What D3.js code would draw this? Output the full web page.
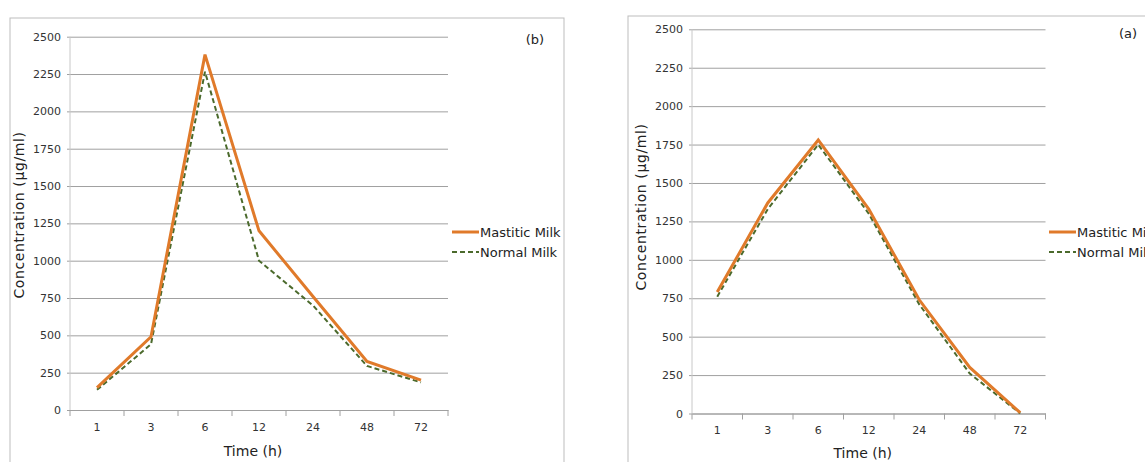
<!DOCTYPE html>
<html>
<head>
<meta charset="utf-8">
<script src="https://cdn.jsdelivr.net/npm/d3@7"></script>
<style>
  body { margin: 0; background: #fff; }
  svg { display: block; font-family: "DejaVu Sans", Verdana, sans-serif; }
</style>
</head>
<body>
<div id="chart"></div>
<script>
// time points (h) and tick values
const times = ["1", "3", "6", "12", "24", "48", "72"];
const yTicks = [0, 250, 500, 750, 1000, 1250, 1500, 1750, 2000, 2250, 2500];
const seriesNames = ["Mastitic Milk", "Normal Milk"];

// panel (b)
const mastiticB = [150, 490, 2380, 1200, 760, 325, 200];
const normalB   = [135, 440, 2265, 1000, 700, 295, 185];
// panel (a)
const mastiticA = [790, 1370, 1780, 1330, 740, 300, 5];
const normalA   = [760, 1330, 1750, 1300, 710, 260, 0];

const W = 1145, H = 462;
const orange = "#e07a2a", green = "#4b6a2c";

const svg = d3.select("#chart").append("svg")
  .attr("width", W).attr("height", H);

function drawPanel(cfg) {
  const { frame, left, right, top, bottom, mastitic, normal, tag, tagPos, legendX, yLabelX, yLabelY, xLabelY } = cfg;

  // frame of the panel
  svg.append("rect")
    .attr("x", frame[0]).attr("y", frame[1])
    .attr("width", frame[2]).attr("height", frame[3])
    .attr("fill", "none").attr("stroke", "#bdbdbd").attr("stroke-width", 1);

  const x = d3.scaleBand().domain(times).range([left, right]);
  const y = d3.scaleLinear().domain([0, 2500]).range([bottom, top]);

  // gridlines + y tick labels
  const gy = svg.append("g")
    .attr("transform", `translate(${left},0)`)
    .call(d3.axisLeft(y).tickValues(yTicks).tickFormat(d3.format("d"))
      .tickSize(-(right - left)).tickPadding(9));
  gy.select(".domain").remove();
  gy.selectAll(".tick line").attr("stroke", "#a0a0a0").attr("x1", -3);
  gy.selectAll(".tick text").attr("fill", "#333").attr("font-size", 11)
    .attr("font-family", "DejaVu Sans, Verdana, sans-serif");

  // y axis line
  svg.append("line")
    .attr("x1", left).attr("x2", left).attr("y1", top).attr("y2", bottom)
    .attr("stroke", "#c8c8c8");

  // x axis
  const gx = svg.append("g")
    .attr("transform", `translate(0,${bottom})`)
    .call(d3.axisBottom(x).tickSize(0).tickPadding(13));
  gx.select(".domain").attr("stroke", "#a0a0a0");
  gx.selectAll(".tick text").attr("fill", "#333").attr("font-size", 11)
    .attr("font-family", "DejaVu Sans, Verdana, sans-serif");
  const bounds = times.map(t => x(t)).concat([right]);
  svg.append("g").selectAll("line").data(bounds).join("line")
    .attr("x1", d => d).attr("x2", d => d)
    .attr("y1", bottom).attr("y2", bottom + 6)
    .attr("stroke", "#a0a0a0");

  const line = d3.line()
    .x((d, i) => x(times[i]) + x.bandwidth() / 2)
    .y(d => y(d));

  svg.append("path").datum(normal)
    .attr("d", line).attr("fill", "none")
    .attr("stroke", green).attr("stroke-width", 2)
    .attr("stroke-dasharray", "5,3");
  svg.append("path").datum(mastitic)
    .attr("d", line).attr("fill", "none")
    .attr("stroke", orange).attr("stroke-width", 3)
    .attr("stroke-linejoin", "miter");

  // axis titles
  svg.append("text")
    .attr("x", (left + right) / 2 - 6).attr("y", xLabelY)
    .attr("text-anchor", "middle").attr("font-size", 14).attr("fill", "#222")
    .text("Time (h)");
  svg.append("text")
    .attr("transform", `translate(${yLabelX},${yLabelY}) rotate(-90)`)
    .attr("text-anchor", "middle").attr("font-size", 14).attr("fill", "#222")
    .attr("letter-spacing", 0.6)
    .text("Concentration  (µg/ml)");

  // panel tag
  svg.append("text")
    .attr("x", tagPos[0]).attr("y", tagPos[1])
    .attr("text-anchor", "middle").attr("font-size", 13).attr("fill", "#222")
    .text(tag);

  // legend
  const lg = svg.append("g");
  const rows = [
    { name: seriesNames[0], color: orange, w: 3, dash: null, y: 232 },
    { name: seriesNames[1], color: green, w: 2, dash: "5,3", y: 252 }
  ];
  rows.forEach(r => {
    lg.append("line")
      .attr("x1", legendX).attr("x2", legendX + 27)
      .attr("y1", r.y).attr("y2", r.y)
      .attr("stroke", r.color).attr("stroke-width", r.w)
      .attr("stroke-dasharray", r.dash);
    lg.append("text")
      .attr("x", legendX + 28).attr("y", r.y + 5)
      .attr("font-size", 13).attr("fill", "#222")
      .text(r.name);
  });
}

drawPanel({
  frame: [10, 18, 554, 470],
  left: 70, right: 448, top: 36.7, bottom: 410,
  mastitic: mastiticB, normal: normalB,
  tag: "(b)", tagPos: [535, 44],
  legendX: 452, yLabelX: 24, yLabelY: 215, xLabelY: 456
});

drawPanel({
  frame: [628, 16, 600, 470],
  left: 692, right: 1045.5, top: 29.3, bottom: 413.5,
  mastitic: mastiticA, normal: normalA,
  tag: "(a)", tagPos: [1128, 38],
  legendX: 1049, yLabelX: 646, yLabelY: 207, xLabelY: 458
});
</script>
</body>
</html>
